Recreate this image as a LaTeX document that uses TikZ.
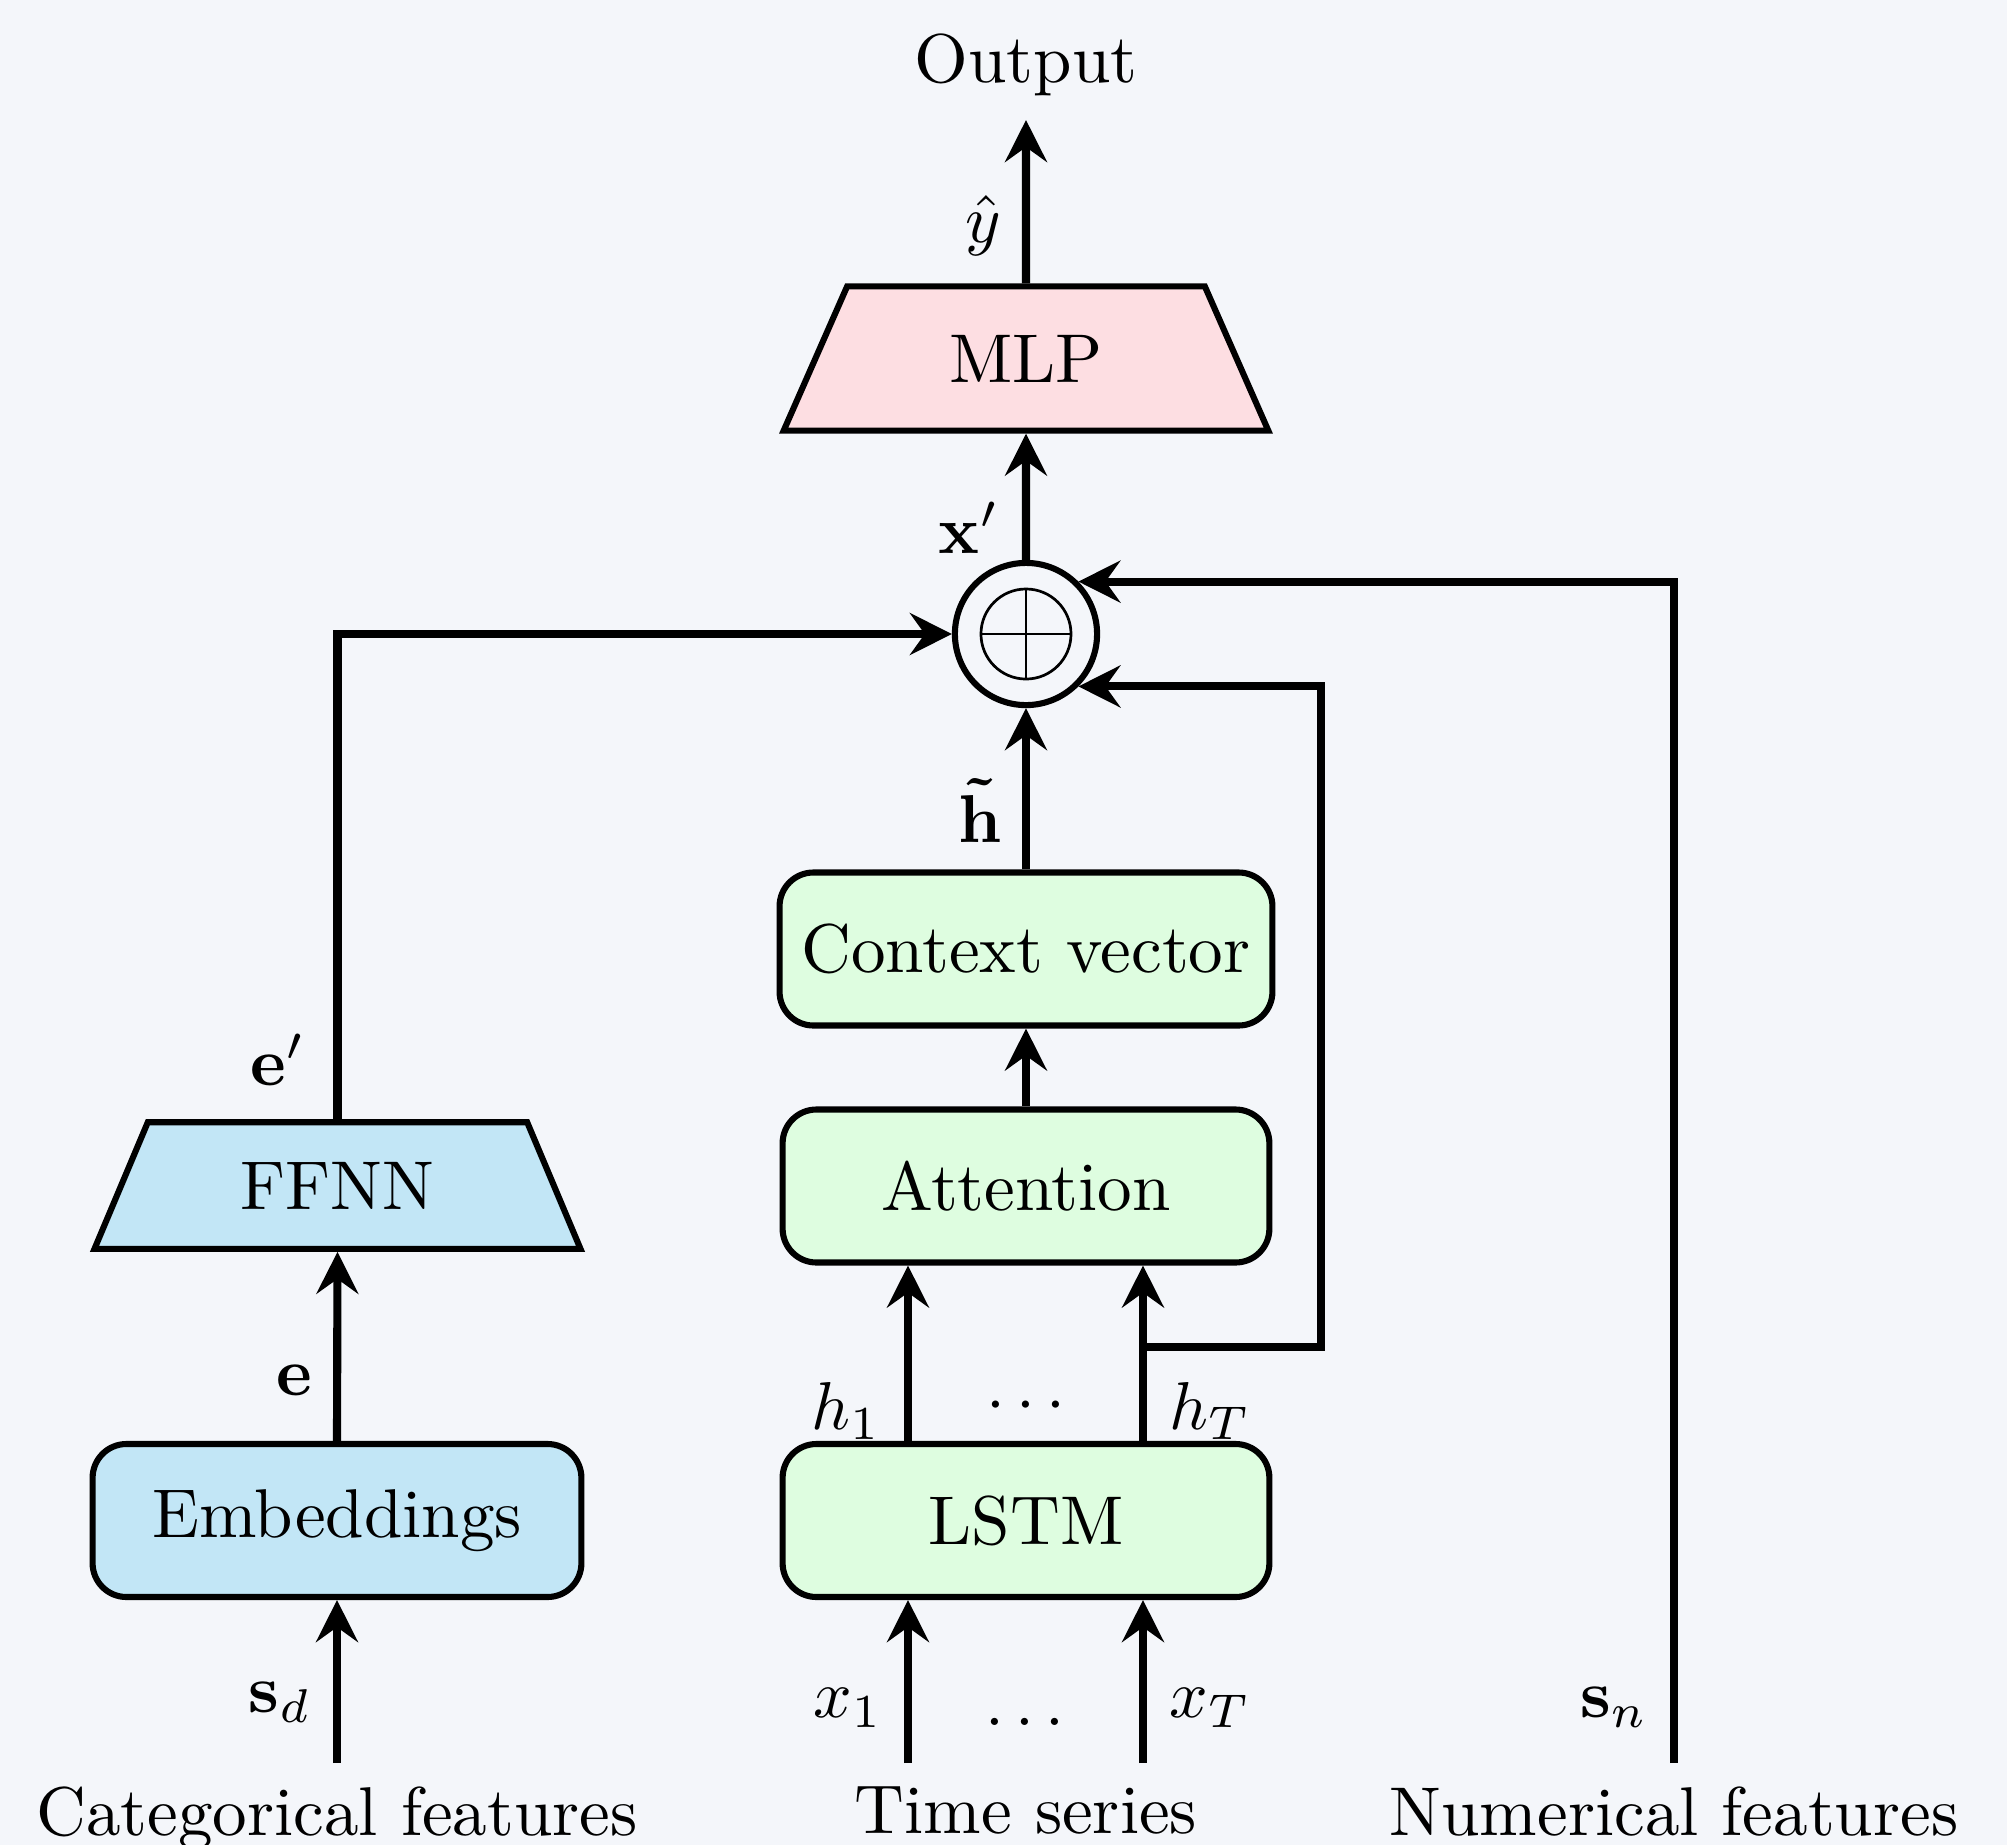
\documentclass[tikz,border=0pt]{standalone}
\usetikzlibrary{arrows.meta,shapes.geometric,calc}
\definecolor{canvas}{HTML}{F4F6FA}
\definecolor{mlpred}{HTML}{FDDEE2}
\definecolor{catblue}{HTML}{C2E6F6}
\definecolor{seqgreen}{HTML}{DEFDE0}
\begin{document}
\begin{tikzpicture}[x=0.1477pt,y=-0.1477pt,
  every node/.append style={font=\fontsize{10.2pt}{12.2pt}\selectfont},
  block/.style={draw,line width=0.9pt,rounded corners=5pt,inner sep=0pt,minimum height=22.6pt},
  trap/.style={draw,line width=0.9pt,trapezium,trapezium left angle=60,trapezium right angle=60,
    trapezium stretches=true,inner sep=0pt},
  flow/.style={line width=1.2pt,-{Stealth[length=6.2pt,width=6.2pt,inset=2.2pt]}},
  tag/.style={inner sep=0pt}]
\useasboundingbox (0,0) rectangle (2007,1845);
\fill[canvas] (0,0) rectangle (2007,1845);

% processing blocks
\node[trap,fill=mlpred,minimum width=71.7pt,minimum height=21.3pt] (mlp) at (1026,358.5) {MLP};
\node[trap,fill=catblue,minimum width=72pt,minimum height=18.7pt] (ffnn) at (337.5,1185.5) {FFNN};
\node[block,fill=seqgreen,minimum width=72.8pt] (ctx) at (1026,949) {Context vector};
\node[block,fill=seqgreen,minimum width=71.9pt] (att) at (1026,1186) {Attention};
\node[block,fill=seqgreen,minimum width=71.9pt] (lstm) at (1026,1520.5) {LSTM};
\node[block,fill=catblue,minimum width=72.2pt] (emb) at (337,1520.5) {Embeddings};

% concatenation node
\node[circle,draw,line width=0.9pt,minimum size=21pt,inner sep=0pt] (plus) at (1026,634) {};
\draw[line width=0.4pt] (plus.center) circle[radius=6.65pt];
\draw[line width=0.4pt] (plus.center) ++(-6.65pt,0) -- ++(13.3pt,0);
\draw[line width=0.4pt] (plus.center) ++(0,-6.65pt) -- ++(0,13.3pt);

% inputs and output
\node[anchor=south] (out) at (1026,120) {Output};
\node[anchor=north] (cat) at (337,1763) {Categorical features};
\node[anchor=north] (ts) at (1026,1763) {Time series};
\node[anchor=north] (num) at (1674,1763) {Numerical features};

% signal labels
\node[tag,anchor=base] (yhat) at (983,242) {$\hat{y}$};
\node[tag,anchor=base] (xp) at (969,553) {$\mathbf{x}'$};
\node[tag,anchor=base] (ht) at (980,842) {$\mathbf{\tilde{h}}$};
\node[tag,anchor=base] (ep) at (278,1085) {$\mathbf{e}'$};
\node[tag,anchor=base] (ev) at (294,1395) {$\mathbf{e}$};
\node[tag,anchor=base] (h1) at (846,1429) {$h_1$};
\node[tag,anchor=base] (hT) at (1210,1429) {$h_T$};
\node[tag] (hdots) at (1026,1406) {$\cdots$};
\node[tag,anchor=base] (sd) at (280,1712) {$\mathbf{s}_d$};
\node[tag,anchor=base] (x1) at (848,1717) {$x_1$};
\node[tag,anchor=base] (xT) at (1210,1717) {$x_T$};
\node[tag,anchor=base] (xdots) at (1025,1725) {$\ldots$};
\node[tag,anchor=base] (sn) at (1614,1717) {$\mathbf{s}_n$};

% time-step lanes
\coordinate (lane1) at (908,0);
\coordinate (lane2) at (1143,0);
\coordinate (tap) at (1143,1347);
\coordinate (bend) at (1321,1347);

% connectors
\draw[flow] (mlp.north) -- (out.south);
\draw[flow] (plus.north) -- (mlp.south);
\draw[flow] (ctx.north) -- (plus.south);
\draw[flow] (att.north) -- (ctx.south);
\draw[flow] (lstm.north -| lane1) -- (att.south -| lane1);
\draw[flow] (lstm.north -| lane2) -- (att.south -| lane2);
\draw[flow] (ts.north -| lane1) -- (lstm.south -| lane1);
\draw[flow] (ts.north -| lane2) -- (lstm.south -| lane2);
\draw[flow] (tap) -- (bend) |- (plus.-45);
\draw[flow] (num.north) |- (plus.45);
\draw[flow] (cat.north) -- (emb.south);
\draw[flow] (emb.north) -- (ffnn.south);
\draw[flow] (ffnn.north) |- (plus.west);
\end{tikzpicture}
\end{document}
